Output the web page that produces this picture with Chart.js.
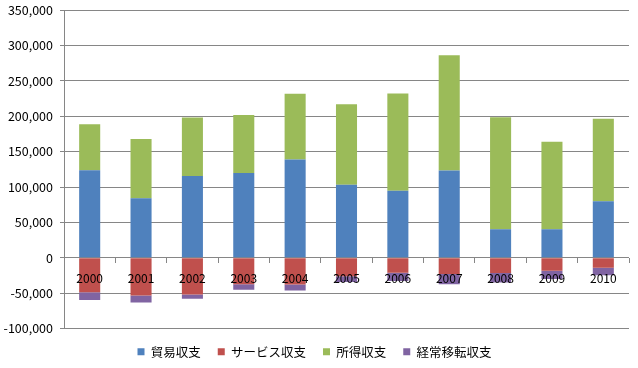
<!DOCTYPE html>
<html>
<head>
<meta charset="utf-8">
<script src="https://cdn.jsdelivr.net/npm/chart.js@4"></script>
<style>
  html, body { margin: 0; padding: 0; background: #fff; }
  #wrap { width: 638px; height: 368px; position: relative; }
</style>
</head>
<body>
<div id="wrap"><canvas id="chart"></canvas></div>
<script>
const years = ['2000', '2001', '2002', '2003', '2004', '2005', '2006', '2007', '2008', '2009', '2010'];
const seriesNames = ['貿易収支', 'サービス収支', '所得収支', '経常移転収支'];
const trade = [123700, 84000, 115500, 119800, 139000, 103300, 94600, 123200, 40300, 40400, 79800];
const services = [-48800, -53300, -51900, -37500, -37700, -26200, -21300, -23000, -21600, -18500, -14300];
const income = [65000, 84000, 82700, 82000, 92700, 113800, 137500, 163000, 158400, 123500, 116500];
const transfers = [-11000, -9900, -6000, -7800, -8500, -8200, -11500, -14500, -13500, -11600, -10500];
const yTicks = { min: -100000, max: 350000, step: 50000 };

const palette = ['#4F81BD', '#C0504D', '#9BBB59', '#8064A2'];
const gridGray = '#868686';
const fontFamily = "'Noto Sans CJK JP', 'Noto Sans', sans-serif";

const seriesData = [trade, services, income, transfers];

const datasets = seriesNames.map((name, i) => ({
  label: name,
  data: seriesData[i],
  backgroundColor: palette[i],
  borderWidth: 0,
  barPercentage: 0.41,
  categoryPercentage: 1.0
}));

new Chart(document.getElementById('chart').getContext('2d'), {
  type: 'bar',
  data: { labels: years, datasets: datasets },
  options: {
    responsive: true,
    maintainAspectRatio: false,
    animation: false,
    layout: { padding: { top: 0, right: 9, left: 0, bottom: 0 } },
    plugins: {
      tooltip: { enabled: false },
      legend: {
        position: 'bottom',
        maxHeight: 41,
        labels: {
          color: '#000',
          font: { family: fontFamily, size: 12.5 },
          boxWidth: 7,
          boxHeight: 7,
          padding: 17
        }
      }
    },
    scales: {
      x: {
        stacked: true,
        position: { y: 0 },
        border: { display: false },
        grid: {
          offset: true,
          drawOnChartArea: false,
          drawTicks: true,
          tickLength: 5,
          color: gridGray
        },
        ticks: {
          z: 1,  // year labels sit on top of the bars, as in the original
          color: '#000',
          padding: 8,
          maxRotation: 0,
          font: { family: fontFamily, size: 12 }
        }
      },
      y: {
        stacked: true,
        min: yTicks.min,
        max: yTicks.max,
        afterFit: (scale) => { scale.width = 64; },
        border: { display: true, color: gridGray },
        grid: {
          color: gridGray,
          tickLength: 4
        },
        ticks: {
          stepSize: yTicks.step,
          color: '#000',
          padding: 7,
          // small lineHeight only trims the space reserved above the top label
          font: { family: fontFamily, size: 12.5, lineHeight: 0.5 },
          callback: (value) => value.toLocaleString('en-US')
        }
      }
    }
  }
});
</script>
</body>
</html>
